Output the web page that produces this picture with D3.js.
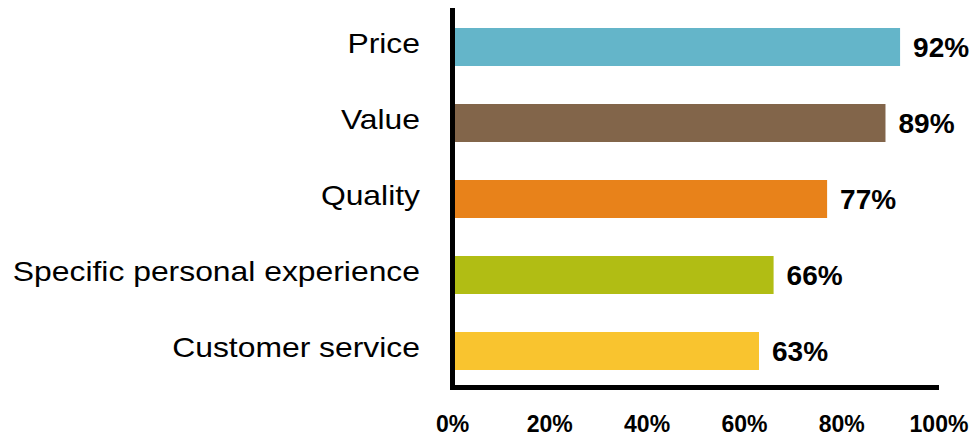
<!DOCTYPE html>
<html>
<head>
<meta charset="utf-8">
<script src="https://cdn.jsdelivr.net/npm/d3@7"></script>
<style>
  html, body { margin: 0; padding: 0; background: #fff; }
  svg { display: block; font-family: "Liberation Sans", Arial, sans-serif; }
</style>
</head>
<body>
<svg id="chart" width="976" height="440"></svg>
<script>
// data
const categories = ["Price", "Value", "Quality", "Specific personal experience", "Customer service"];
const values     = [92, 89, 77, 66, 63];
const colors     = ["#64b5c9", "#82654a", "#e8821a", "#b1bd14", "#f9c42f"];
const ticks      = [0, 20, 40, 60, 80, 100];

const svg = d3.select("#chart");

const x = d3.scaleLinear().domain([0, 100]).range([452.5, 939]);
const y = d3.scaleBand().domain(categories).range([9, 389]).paddingInner(0.5).paddingOuter(0.25);

// bars
svg.selectAll(".bar")
  .data(categories)
  .join("rect")
  .attr("class", "bar")
  .attr("x", x(0))
  .attr("y", d => y(d))
  .attr("width", (d, i) => x(values[i]) - x(0))
  .attr("height", y.bandwidth())
  .attr("fill", (d, i) => colors[i]);

// value labels
svg.selectAll(".val")
  .data(categories)
  .join("text")
  .attr("class", "val")
  .attr("x", (d, i) => x(values[i]) + 13)
  .attr("y", d => y(d) + y.bandwidth() / 2)
  .attr("dy", "0.36em")
  .attr("font-size", 28)
  .attr("font-weight", "bold")
  .attr("fill", "#000")
  .text((d, i) => values[i] + "%");

// category labels — slightly stretched like the original
svg.selectAll(".cat")
  .data(categories)
  .join("text")
  .attr("class", "cat")
  .attr("transform", d => `translate(420,${y(d) + y.bandwidth() / 2 + 6}) scale(1.18,1)`)
  .attr("text-anchor", "end")
  .attr("font-size", 27)
  .attr("fill", "#000")
  .text(d => d);

// axes lines
svg.append("line")
  .attr("x1", 452.5).attr("x2", 452.5)
  .attr("y1", 8).attr("y2", 390)
  .attr("stroke", "#000").attr("stroke-width", 5);
svg.append("line")
  .attr("x1", 450).attr("x2", x(100))
  .attr("y1", 387.5).attr("y2", 387.5)
  .attr("stroke", "#000").attr("stroke-width", 5);

// tick labels
svg.selectAll(".tick")
  .data(ticks)
  .join("text")
  .attr("class", "tick")
  .attr("x", d => x(d))
  .attr("y", 432)
  .attr("text-anchor", "middle")
  .attr("font-size", 23)
  .attr("font-weight", "bold")
  .attr("fill", "#000")
  .text(d => d + "%");
</script>
</body>
</html>
